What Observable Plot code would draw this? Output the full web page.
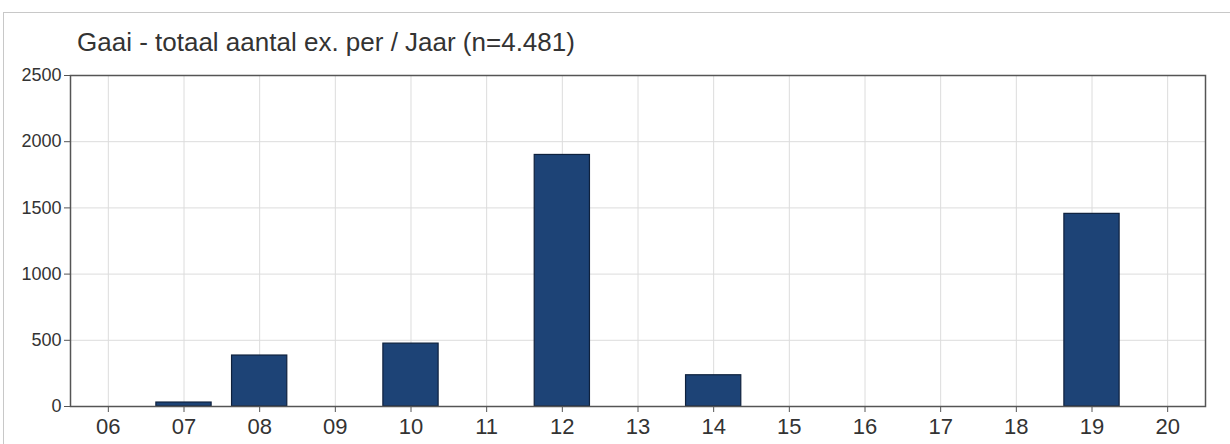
<!DOCTYPE html>
<html>
<head>
<meta charset="utf-8">
<script src="https://cdn.jsdelivr.net/npm/d3@7"></script>
<script src="https://cdn.jsdelivr.net/npm/@observablehq/plot@0.6"></script>
<style>
  html, body { margin: 0; padding: 0; background: #fff; overflow: hidden; }
  body { width: 1230px; height: 444px; font-family: "Liberation Sans", Arial, sans-serif; }
  .frame { position: absolute; left: 3px; top: 12px; width: 1240px; height: 440px;
           border-top: 1px solid #c8c8c8; border-left: 1px solid #c8c8c8; }
  .title { height: 30px; padding-top: 14px; line-height: 30px; padding-left: 73px;
           font-size: 26px; color: #333; white-space: nowrap; }
</style>
</head>
<body>
<div class="frame">
  <div class="title" id="title"></div>
  <div id="chart"></div>
</div>
<script>
const titleText = "Gaai - totaal aantal ex. per / Jaar (n=4.481)";
const years = ["06","07","08","09","10","11","12","13","14","15","16","17","18","19","20"];
const counts = [0, 30, 385, 0, 475, 0, 1900, 0, 236, 0, 0, 0, 0, 1455, 0];
const yTicks = [0, 500, 1000, 1500, 2000, 2500];

document.getElementById("title").textContent = titleText;

const data = years.map((y, i) => ({year: y, count: counts[i]}));

const chart = Plot.plot({
  width: 1226,
  height: 387,
  marginTop: 18,
  marginBottom: 38,
  marginLeft: 66,
  marginRight: 25,
  style: {fontFamily: "'Liberation Sans', Arial, sans-serif", color: "#333", background: "transparent"},
  x: {domain: years, paddingInner: 0.27, paddingOuter: 0.135, round: false, label: null},
  y: {domain: [0, 2500], label: null},
  marks: [
    Plot.gridY(yTicks, {stroke: "#dcdcdc", strokeOpacity: 1}),
    Plot.ruleX(years, {x: d => d, stroke: "#dcdcdc", strokeOpacity: 1}),
    Plot.barY(data.filter(d => d.count > 0), {x: "year", y: "count", fill: "#1d4376", stroke: "#0e213d", strokeWidth: 1.2}),
    Plot.axisX({ticks: years, tickSize: 6, tickPadding: 6, fontSize: 22, stroke: "#555", label: null}),
    Plot.axisY({ticks: yTicks, tickFormat: d3.format("d"), tickSize: 6, tickPadding: 3, fontSize: 18, stroke: "#555", label: null}),
    Plot.frame({stroke: "#555", strokeWidth: 1.5})
  ]
});
document.getElementById("chart").appendChild(chart);
</script>
</body>
</html>
